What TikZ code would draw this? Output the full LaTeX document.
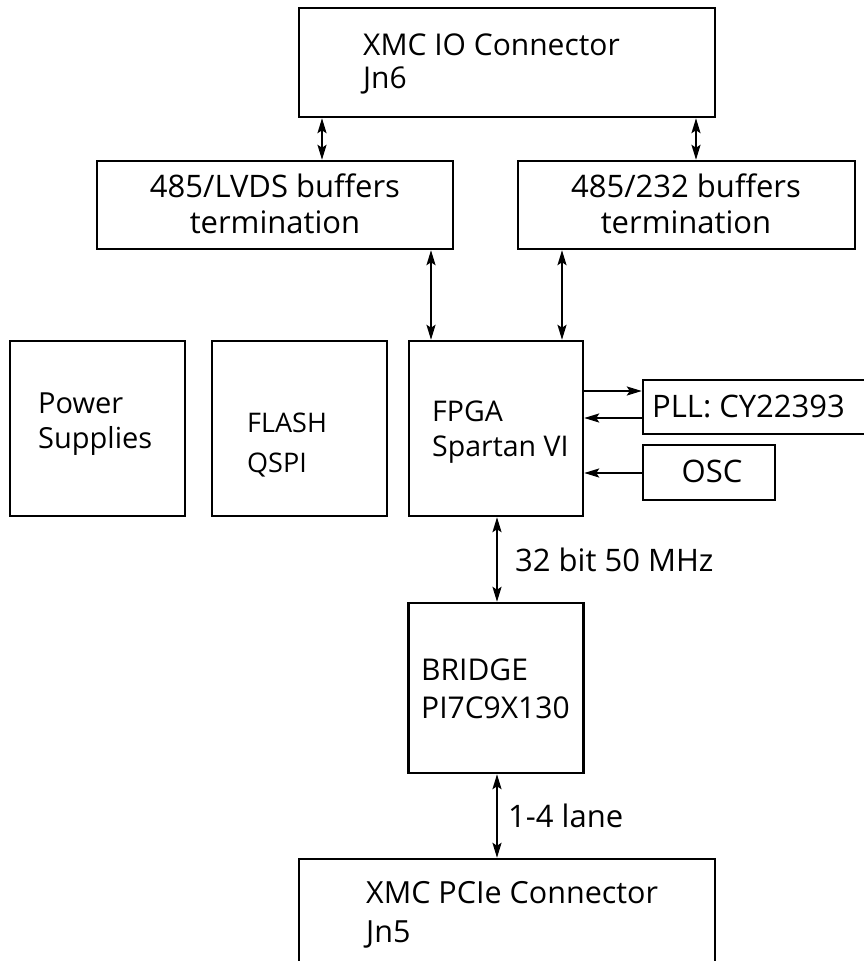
\documentclass[tikz,border=0pt]{standalone}
\usepackage{fontspec}
\setmainfont{Open Sans}
\usetikzlibrary{arrows.meta}
\begin{document}
\begin{tikzpicture}[x=1pt,y=-1pt,
  box/.style={draw, line width=2.4pt, inner sep=0pt},
  biarrow/.style={line width=2pt, {Stealth[length=15pt,width=9pt,inset=3pt]}-{Stealth[length=15pt,width=9pt,inset=3pt]}},
  onearrow/.style={line width=2pt, -{Stealth[length=15pt,width=9pt,inset=3pt]}},
  txt/.style={inner sep=0pt, align=left, anchor=base west},
  ctxt/.style={inner sep=0pt, align=center, anchor=base},
  big/.style={font=\fontsize{31}{36}\selectfont}
]
\useasboundingbox (0,0) rectangle (863,961);
% boxes
\node[box, minimum width=416pt, minimum height=109pt] (top) at (507,62.5) {};
\node[box, minimum width=356pt, minimum height=88pt] (lvds) at (275,205) {};
\node[box, minimum width=337pt, minimum height=88pt] (rs) at (686.5,205) {};
\node[box, minimum width=175pt, minimum height=175pt] (power) at (97.5,428.5) {};
\node[box, minimum width=175pt, minimum height=175pt] (flash) at (299.5,428.5) {};
\node[box, minimum width=174pt, minimum height=175pt] (fpga) at (496,428.5) {};
\node[box, minimum width=235pt, minimum height=54pt] (pll) at (760.5,407) {};
\node[box, minimum width=132pt, minimum height=55pt] (osc) at (709,472.5) {};
\node[box, minimum width=175pt, minimum height=170pt] (bridge) at (496,688) {};
\node[box, minimum width=416pt, minimum height=130pt] (pcie) at (507,924) {};
% texts (anchored at the baseline of the last line)
\node[txt, font=\fontsize{30}{33}\selectfont] (topT) at (363,88) {XMC IO Connector\\Jn6};
\node[ctxt, font=\fontsize{31}{36}\selectfont] (lvdsT) at (275,233) {485/LVDS buffers\\termination};
\node[ctxt, font=\fontsize{31}{36}\selectfont] (rsT) at (686,233) {485/232 buffers\\termination};
\node[txt, font=\fontsize{29}{35}\selectfont] (powerT) at (38,448) {Power\\Supplies};
\node[txt, font=\fontsize{27}{40}\selectfont] (flashT) at (247,472) {FLASH\\QSPI};
\node[txt, font=\fontsize{28.5}{35}\selectfont] (fpgaT) at (432,456) {FPGA\\Spartan VI};
\node[txt, big] (pllT) at (652,417) {PLL: CY22393};
\node[ctxt, big] (oscT) at (712,482) {OSC};
\node[txt, big] (busT) at (515,571) {32 bit 50 MHz};
\node[txt, font=\fontsize{30}{38}\selectfont] (bridgeT) at (421,718) {BRIDGE\\PI7C9X130};
\node[txt, big] (laneT) at (508,827) {1-4 lane};
\node[txt, font=\fontsize{30.5}{39}\selectfont] (pcieT) at (366,942) {XMC PCIe Connector\\Jn5};
% connector x/y positions
\coordinate (xa) at (322,0);
\coordinate (xb) at (696,0);
\coordinate (xc) at (431,0);
\coordinate (xd) at (562,0);
\coordinate (xe) at (497,0);
\coordinate (ya) at (0,391);
\coordinate (yb) at (0,418);
\coordinate (yc) at (0,473);
% connectors
\draw[biarrow] (top.south -| xa) -- (lvds.north -| xa);
\draw[biarrow] (top.south -| xb) -- (rs.north -| xb);
\draw[biarrow] (lvds.south -| xc) -- (fpga.north -| xc);
\draw[biarrow] (rs.south -| xd) -- (fpga.north -| xd);
\draw[onearrow] (fpga.east |- ya) -- (pll.west |- ya);
\draw[onearrow] (pll.west |- yb) -- (fpga.east |- yb);
\draw[onearrow] (osc.west |- yc) -- (fpga.east |- yc);
\draw[biarrow] (fpga.south -| xe) -- (bridge.north -| xe);
\draw[biarrow] (bridge.south -| xe) -- (pcie.north -| xe);
\end{tikzpicture}
\end{document}
